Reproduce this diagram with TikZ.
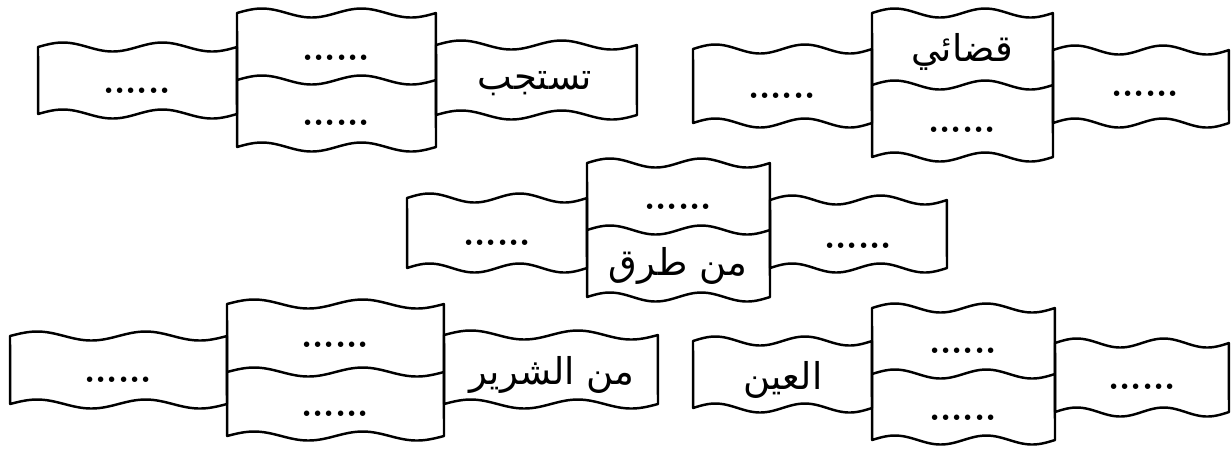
\documentclass[tikz,border=0pt]{standalone}
\usepackage{fontspec}
\usepackage{tikz}
\newfontfamily\arabicfont[Script=Arabic]{DejaVu Sans}
\TeXXeTstate=1

\begin{document}
\begin{tikzpicture}[x=0.01cm,y=-0.01cm,
  wave/.style={draw=black,line width=0.7pt,line join=round},
  dots/.style={font=\fontsize{10}{12}\selectfont\bfseries},
  word/.style={font=\arabicfont\fontsize{10.5}{12}\selectfont}]
  \useasboundingbox (0,0) rectangle (1232,450);
  % wavy banners: left x / right x / top / bottom
  \foreach \xa/\xb/\yt/\yb in {38/237/47/114, 237/436/13/147, 436/637/45/115,
      693/872/49/123, 872/1053/13/157, 1053/1229/50/123,
      407/587/198/268, 587/770/163/297, 770/947/200/268,
      10/227/336/404, 227/444/304/436, 444/658/335/404,
      693/872/341/408, 872/1055/308/440, 1055/1229/343/412}{
    \draw[wave] plot[domain=0:1,samples=60] ({\xa+(\xb-\xa)*\x},{\yt-4.5*sin(720*\x)})
      -- plot[domain=1:0,samples=60] ({\xa+(\xb-\xa)*\x},{\yb-4.5*sin(720*\x)}) -- cycle;
  }
  % middle line of the tall boxes
  \foreach \xa/\xb/\ym in {237/436/80, 872/1053/85, 587/770/230, 227/444/372, 872/1055/374}{
    \draw[wave] plot[domain=0:1,samples=60] ({\xa+(\xb-\xa)*\x},{\ym-4.5*sin(720*\x)});
  }

  % top left
  \node[dots] (l1) at (137,91) {......};
  \node[dots] (c1t) at (336,58) {......};
  \node[dots] (c1b) at (336,123) {......};
  \node[word] (r1) at (535,84) {\beginR تستجب\endR};
  % top right
  \node[dots] (l2) at (782,96) {......};
  \node[word] (c2t) at (962,52) {\beginR قضائي\endR};
  \node[dots] (c2b) at (962,130) {......};
  \node[dots] (r2) at (1145,94) {......};
  % middle
  \node[dots] (l3) at (497,243) {......};
  \node[dots] (c3t) at (678,207) {......};
  \node[word] (c3b) at (678,266) {\beginR من طرق\endR};
  \node[dots] (r3) at (858,246) {......};
  % bottom left
  \node[dots] (l4) at (118,380) {......};
  \node[dots] (c4t) at (335,345) {......};
  \node[dots] (c4b) at (335,414) {......};
  \node[word] (r4) at (552,375) {\beginR من الشرير\endR};
  % bottom right
  \node[word] (l5) at (783,380) {\beginR العين\endR};
  \node[dots] (c5t) at (963,351) {......};
  \node[dots] (c5b) at (963,418) {......};
  \node[dots] (r5) at (1142,387) {......};
\end{tikzpicture}
\end{document}
